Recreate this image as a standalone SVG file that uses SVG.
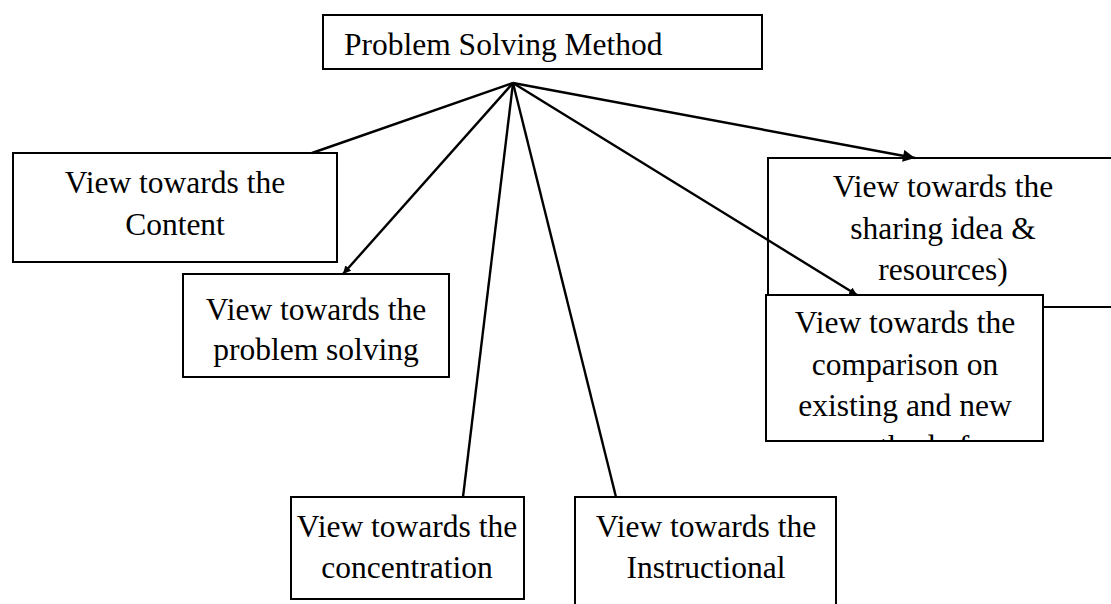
<svg xmlns="http://www.w3.org/2000/svg" width="1111" height="604" viewBox="0 0 1111 604">
<style>
.box{fill:none;stroke:#000;stroke-width:2}
.wbox{fill:#fff;stroke:#000;stroke-width:2}
.t{font-family:"Liberation Serif","Times New Roman",serif;font-size:31.5px;fill:#000;text-anchor:middle}
.tl{font-family:"Liberation Serif","Times New Roman",serif;font-size:31.5px;fill:#000}
.c{stroke:#000;stroke-width:2.4;fill:none}
</style>
<defs>
<marker id="ah" viewBox="0 0 10 10" refX="10" refY="5" markerWidth="8" markerHeight="8" markerUnits="userSpaceOnUse" orient="auto">
<path d="M0,0 L10,5 L0,10 Z" fill="#000"/>
</marker>
<marker id="ahl" viewBox="0 0 10 10" refX="10" refY="5" markerWidth="14" markerHeight="12" markerUnits="userSpaceOnUse" orient="auto">
<path d="M0,0 L10,5 L0,10 Z" fill="#000"/>
</marker>
<clipPath id="clipTop"><rect x="323" y="15" width="439" height="48"/></clipPath>
<clipPath id="clipCmp"><rect x="766" y="295" width="277" height="146"/></clipPath>
</defs>
<rect width="1111" height="604" fill="#fff"/>

<g id="node-top">
<rect class="box" x="323" y="15" width="439" height="54"/>
<text class="tl" x="344" y="55" clip-path="url(#clipTop)">Problem Solving Method</text>
</g>

<g id="node-content">
<rect class="box" x="13" y="153" width="324" height="109"/>
<text class="t" x="175" y="193">View towards the</text>
<text class="t" x="175" y="235">Content</text>
</g>

<g id="node-problem">
<rect class="box" x="183" y="274" width="266" height="103"/>
<text class="t" x="316" y="320">View towards the</text>
<text class="t" x="316" y="360">problem solving</text>
</g>

<g id="node-sharing">
<rect class="box" x="768" y="158" width="400" height="149"/>
<text class="t" x="943" y="197">View towards the</text>
<text class="t" x="943" y="239">sharing idea &amp;</text>
<text class="t" x="943" y="280">resources)</text>
</g>

<g id="connectors">
<line class="c" x1="513" y1="83" x2="312" y2="153"/>
<line class="c" x1="513" y1="83" x2="343" y2="274" marker-end="url(#ah)"/>
<line class="c" x1="513" y1="83" x2="463" y2="497"/>
<line class="c" x1="513" y1="83" x2="616" y2="497"/>
<line class="c" x1="513" y1="83" x2="857" y2="295" marker-end="url(#ah)"/>
<line class="c" x1="513" y1="83" x2="915" y2="158" marker-end="url(#ahl)"/>
</g>

<g id="node-comparison">
<rect class="wbox" x="766" y="295" width="277" height="146"/>
<g clip-path="url(#clipCmp)">
<text class="t" x="905" y="333">View towards the</text>
<text class="t" x="905" y="375">comparison on</text>
<text class="t" x="905" y="416">existing and new</text>
<text class="t" x="905" y="457">method of</text>
</g>
</g>

<g id="node-concentration">
<rect class="box" x="291" y="497" width="233" height="102"/>
<text class="t" x="407" y="537">View towards the</text>
<text class="t" x="407" y="578">concentration</text>
</g>

<g id="node-instructional">
<rect class="box" x="575" y="497" width="261" height="130"/>
<text class="t" x="706" y="537">View towards the</text>
<text class="t" x="706" y="578">Instructional</text>
</g>
</svg>
